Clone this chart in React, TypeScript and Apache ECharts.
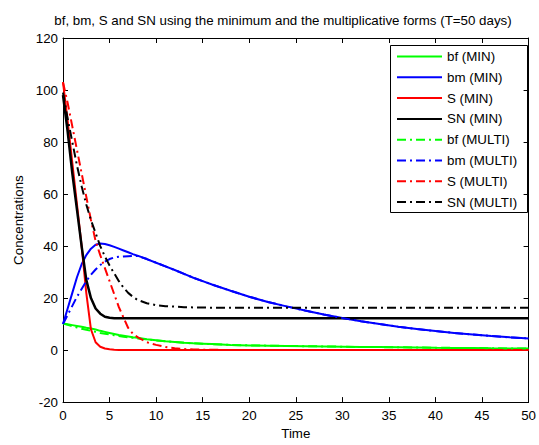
import React, { useEffect, useRef } from "react";
import * as echarts from "echarts";

const T = [0, 0.5, 1, 1.5, 2, 2.5, 3, 3.5, 4, 4.5, 5, 5.5, 6, 6.5, 7, 7.5, 8, 9, 10, 11, 12, 13, 14, 15, 16, 18, 20, 22, 24, 26, 28, 30, 32, 34, 36, 38, 40, 42, 44, 46, 48, 50];

const bfMin = [10.2, 9.9, 9.6, 9.3, 9.0, 8.6, 8.3, 7.9, 7.4, 7.0, 6.6, 6.2, 5.8, 5.5, 5.2, 4.9, 4.7, 4.2, 3.8, 3.4, 3.1, 2.8, 2.6, 2.45, 2.3, 2.0, 1.8, 1.7, 1.6, 1.5, 1.4, 1.3, 1.2, 1.15, 1.1, 1.0, 0.9, 0.85, 0.8, 0.7, 0.65, 0.6];
const bmMin = [10, 16, 22, 28, 33, 36.5, 39, 40.5, 41, 40.8, 40.3, 39.7, 39, 38.3, 37.6, 36.9, 36.3, 35, 33.6, 32.2, 30.8, 29.3, 27.8, 26.5, 25.2, 22.8, 20.5, 18.5, 16.8, 15.2, 13.7, 12.3, 11.1, 10, 9, 8.1, 7.3, 6.6, 6, 5.4, 4.9, 4.5];
const sMin = [103, 88, 72, 56, 40, 22, 8, 3, 1.3, 0.6, 0.3, 0.15, 0.08, 0.04, 0.02, 0.01, 0, 0, 0, 0, 0, 0, 0, 0, 0, 0, 0, 0, 0, 0, 0, 0, 0, 0, 0, 0, 0, 0, 0, 0, 0, 0];
const snMin = [98, 84, 68, 54, 40, 27, 20, 16, 14, 12.8, 12.4, 12.25, 12.2, 12.2, 12.2, 12.2, 12.2, 12.2, 12.2, 12.2, 12.2, 12.2, 12.2, 12.2, 12.2, 12.2, 12.2, 12.2, 12.2, 12.2, 12.2, 12.2, 12.2, 12.2, 12.2, 12.2, 12.2, 12.2, 12.2, 12.2, 12.2, 12.2];
const bfMulti = [10.2, 9.7, 9.2, 8.7, 8.2, 7.8, 7.4, 7.0, 6.6, 6.3, 6.0, 5.7, 5.4, 5.1, 4.9, 4.7, 4.5, 4.1, 3.7, 3.4, 3.1, 2.8, 2.6, 2.45, 2.3, 2.0, 1.8, 1.7, 1.6, 1.5, 1.4, 1.3, 1.2, 1.15, 1.1, 1.0, 0.9, 0.85, 0.8, 0.7, 0.65, 0.6];
const bmMulti = [10, 13.5, 17, 20.5, 23.5, 26.5, 29, 31, 32.7, 34, 35, 35.6, 35.9, 36, 36.1, 36.2, 36.2, 35, 33.6, 32.2, 30.8, 29.3, 27.8, 26.5, 25.2, 22.8, 20.5, 18.5, 16.8, 15.2, 13.7, 12.3, 11.1, 10, 9, 8.1, 7.3, 6.6, 6, 5.4, 4.9, 4.5];
const sMulti = [103, 95, 86, 77, 68, 59, 50, 42, 36.5, 31.5, 26.5, 21.5, 16.5, 12.5, 8.5, 6.3, 5, 3, 2, 1.2, 0.7, 0.4, 0.25, 0.15, 0.1, 0.05, 0.02, 0, 0, 0, 0, 0, 0, 0, 0, 0, 0, 0, 0, 0, 0, 0];
const snMulti = [99, 89, 80, 71, 63, 56, 50, 45, 40, 36, 32.5, 29.5, 26.5, 24, 22, 20.5, 19.3, 18, 17.3, 16.9, 16.7, 16.5, 16.4, 16.35, 16.3, 16.3, 16.3, 16.3, 16.3, 16.3, 16.3, 16.3, 16.3, 16.3, 16.3, 16.3, 16.3, 16.3, 16.3, 16.3, 16.3, 16.3];

const seriesNames = ["bf (MIN)", "bm (MIN)", "S (MIN)", "SN (MIN)", "bf (MULTI)", "bm (MULTI)", "S (MULTI)", "SN (MULTI)"];
const seriesValues = [bfMin, bmMin, sMin, snMin, bfMulti, bmMulti, sMulti, snMulti];
const seriesColors = ["#00ff00", "#0000ff", "#ff0000", "#000000", "#00ff00", "#0000ff", "#ff0000", "#000000"];

const xTicks = { min: 0, max: 50, interval: 5 };
const yTicks = { min: -20, max: 120, interval: 20 };

const titleText = "bf, bm, S and SN using the minimum and the multiplicative forms (T=50 days)";

const FONT = "'Liberation Sans', Arial, sans-serif";
const FS = 13.33;

export default function App() {
  const ref = useRef<HTMLDivElement>(null);
  useEffect(() => {
    if (!ref.current) return;
    const chart = echarts.init(ref.current, undefined, { renderer: "svg" });
    const dashDot = [9, 4, 2, 4];
    const series = seriesNames.map((name, i) => ({
      name,
      type: "line",
      xAxisIndex: 0,
      yAxisIndex: 0,
      symbol: "none",
      showSymbol: false,
      data: T.map((t, j) => [t, seriesValues[i][j]]),
      lineStyle: {
        color: seriesColors[i],
        width: i === 3 ? 2.5 : 2,
        type: i >= 4 ? dashDot : "solid",
      },
      itemStyle: { color: seriesColors[i] },
      z: i >= 4 ? 3 : 2,
    }));
    const axisCommon = {
      type: "value",
      axisLine: { show: true, onZero: false, lineStyle: { color: "#000", width: 1 } },
      axisTick: { show: true, inside: true, length: 5, lineStyle: { color: "#000" } },
      splitLine: { show: false },
    };
    chart.setOption({
      animation: false,
      backgroundColor: "#fff",
      textStyle: { fontFamily: FONT },
      grid: { left: 63, right: 7, top: 38, bottom: 38, containLabel: false },
      legend: {
        orient: "vertical",
        left: 396,
        top: 50,
        padding: 0,
        itemWidth: 45,
        itemHeight: 12,
        itemGap: 7.8,
        data: seriesNames,
        itemStyle: { opacity: 0 },
        textStyle: { fontSize: FS, color: "#000", fontFamily: FONT },
      },
      graphic: [
        {
          type: "text",
          x: 283,
          y: 20,
          style: {
            text: titleText,
            fill: "#000",
            font: `${FS}px ${FONT}`,
            textAlign: "center",
            textVerticalAlign: "middle",
          },
          silent: true,
        },
        {
          type: "rect",
          shape: { x: 390.5, y: 45.5, width: 137, height: 167 },
          style: { fill: "rgba(0,0,0,0)", stroke: "#000", lineWidth: 1 },
          z: 100,
          silent: true,
        },
      ],
      xAxis: [
        {
          ...axisCommon,
          position: "bottom",
          ...xTicks,
          axisLabel: { show: true, fontSize: FS, color: "#000", margin: 7, fontFamily: FONT },
          name: "Time",
          nameLocation: "middle",
          nameGap: 24,
          nameTextStyle: { fontSize: FS, color: "#000", fontFamily: FONT },
        },
        {
          ...axisCommon,
          position: "top",
          ...xTicks,
          axisLabel: { show: false },
        },
      ],
      yAxis: [
        {
          ...axisCommon,
          position: "left",
          ...yTicks,
          axisLabel: { show: true, fontSize: FS, color: "#000", margin: 5, fontFamily: FONT },
          name: "Concentrations",
          nameLocation: "middle",
          nameRotate: 90,
          nameGap: 36,
          nameTextStyle: { fontSize: FS, color: "#000", fontFamily: FONT },
        },
        {
          ...axisCommon,
          position: "right",
          ...yTicks,
          axisLabel: { show: false },
        },
      ],
      series,
    });
    return () => chart.dispose();
  }, []);
  return <div ref={ref} style={{ width: 539, height: 445, position: "absolute", left: 0, top: 0 }} />;
}
